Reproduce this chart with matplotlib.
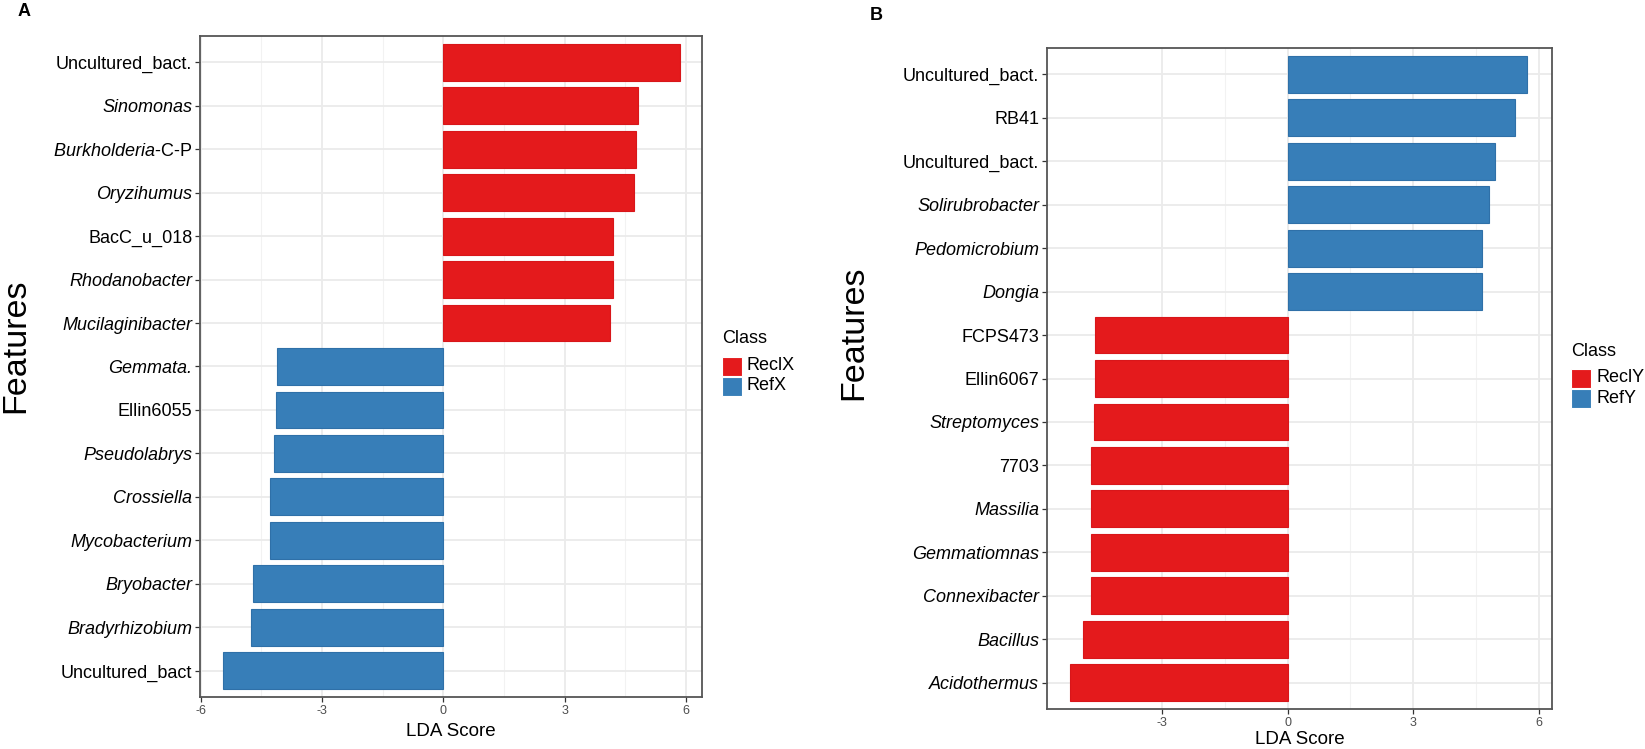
import matplotlib
matplotlib.use("Agg")
import matplotlib.pyplot as plt
import numpy as np

plt.rcParams['font.family'] = ['Liberation Sans', 'DejaVu Sans']
plt.rcParams['axes.unicode_minus'] = False
plt.rcParams['mathtext.fontset'] = 'custom'
plt.rcParams['mathtext.rm'] = 'Liberation Sans'
plt.rcParams['mathtext.it'] = 'Liberation Sans:italic'

# Panel A data (top to bottom)
featA = ["Uncultured_bact.", "Sinomonas", r"$\it{Burkholderia}$-C-P", "Oryzihumus",
         "BacC_u_018", "Rhodanobacter", "Mucilaginibacter", "Gemmata.", "Ellin6055",
         "Pseudolabrys", "Crossiella", "Mycobacterium", "Bryobacter", "Bradyrhizobium",
         "Uncultured_bact"]
italA = [False, True, False, True, False, True, True, True, False, True, True, True, True, True, False]
ldaA = [5.85, 4.82, 4.77, 4.71, 4.21, 4.21, 4.12, -4.12, -4.15, -4.18, -4.29, -4.29,
        -4.70, -4.76, -5.46]
classA = ["ReclX"] * 7 + ["RefX"] * 8

# Panel B data (top to bottom)
featB = ["Uncultured_bact.", "RB41", "Uncultured_bact.", "Solirubrobacter", "Pedomicrobium",
         "Dongia", "FCPS473", "Ellin6067", "Streptomyces", "7703", "Massilia",
         "Gemmatiomnas", "Connexibacter", "Bacillus", "Acidothermus"]
italB = [False, False, False, True, True, True, False, False, True, False, True, True, True, True, True]
ldaB = [5.71, 5.43, 4.94, 4.80, 4.63, 4.63, -4.59, -4.59, -4.61, -4.68, -4.68, -4.68,
        -4.70, -4.88, -5.20]
classB = ["RefY"] * 6 + ["ReclY"] * 9

ticks = [-6, -3, 0, 3, 6]
red = "#E41A1C"
blue = "#377EB8"

W, H = 1645, 749
fig = plt.figure(figsize=(16.45, 7.49), dpi=100)


def draw_panel(rect, feats, itals, vals, classes, colors, xlim, tick_list):
    ax = fig.add_axes(rect)
    n = len(feats)
    ypos = np.arange(n)[::-1]
    cols = [colors[c] for c in classes]
    edges = ["#D8161A" if c == red else "#2F70A8" for c in cols]
    ax.barh(ypos, vals, height=0.85, color=cols, edgecolor=edges, linewidth=0.8, zorder=3)
    ax.set_xlim(xlim)
    ax.set_ylim(-0.6, n - 0.4)
    ax.set_yticks(ypos)
    ax.set_yticklabels(feats, fontsize=13, color="black")
    for lab, it in zip(ax.get_yticklabels(), itals):
        if it:
            lab.set_fontstyle("italic")
    ax.set_xticks(tick_list)
    ax.set_xticklabels([str(t) for t in tick_list], fontsize=9, color="#4D4D4D")
    minor = [(tick_list[i] + tick_list[i + 1]) / 2 for i in range(len(tick_list) - 1)]
    ax.set_xticks(minor, minor=True)
    ax.tick_params(axis="x", which="minor", length=0)
    ax.tick_params(axis="both", which="major", length=3.5, width=0.9, color="#333333", pad=2)
    ax.grid(True, which="major", color="#EBEBEB", linewidth=1.3, zorder=0)
    ax.grid(True, which="minor", axis="x", color="#F2F2F2", linewidth=0.8, zorder=0)
    ax.set_axisbelow(True)
    for s in ax.spines.values():
        s.set_color("#555555")
        s.set_linewidth(1.3)
    return ax


def px(x0, y0, x1, y1):
    return [x0 / W, 1 - y1 / H, (x1 - x0) / W, (y1 - y0) / H]


axA = draw_panel(px(200, 36, 702, 697), featA, italA, ldaA, classA,
                 {"ReclX": red, "RefX": blue}, (-6.02, 6.4), ticks)
axB = draw_panel(px(1047, 48, 1552, 709), featB, italB, ldaB, classB,
                 {"ReclY": red, "RefY": blue}, (-5.74, 6.31), [-3, 0, 3, 6])

# axis titles
fig.text(451 / W, 1 - 731 / H, "LDA Score", fontsize=13.5, ha="center", va="center")
fig.text(1300 / W, 1 - 740 / H, "LDA Score", fontsize=13.5, ha="center", va="center")
fig.text(16 / W, 1 - 346 / H, "Features", fontsize=24.5, rotation=90, ha="center", va="center")
fig.text(854 / W, 1 - 333 / H, "Features", fontsize=24.5, rotation=90, ha="center", va="center")

# panel letters
fig.text(24 / W, 1 - 12 / H, "A", fontsize=13, fontweight="bold", ha="center", va="center")
fig.text(876 / W, 1 - 16 / H, "B", fontsize=13, fontweight="bold", ha="center", va="center")


# legends drawn as small keys
def legend(x0, ytitle, yfirst, labels, colors):
    fig.text(x0 / W, 1 - ytitle / H, "Class", fontsize=13, ha="left", va="center")
    for i, (lab, col) in enumerate(zip(labels, colors)):
        yc = yfirst + i * 20
        fig.patches.append(plt.Rectangle((x0 / W, 1 - (yc + 9.5) / H), 19.5 / W, 19 / H,
                                         transform=fig.transFigure, facecolor=col,
                                         edgecolor="white", linewidth=0.8, figure=fig))
        fig.text((x0 + 25) / W, 1 - yc / H, lab, fontsize=13, ha="left", va="center")


legend(722, 338, 366, ["ReclX", "RefX"], [red, blue])
legend(1571, 352, 378, ["ReclY", "RefY"], [red, blue])

fig.savefig("out.png", dpi=100)
